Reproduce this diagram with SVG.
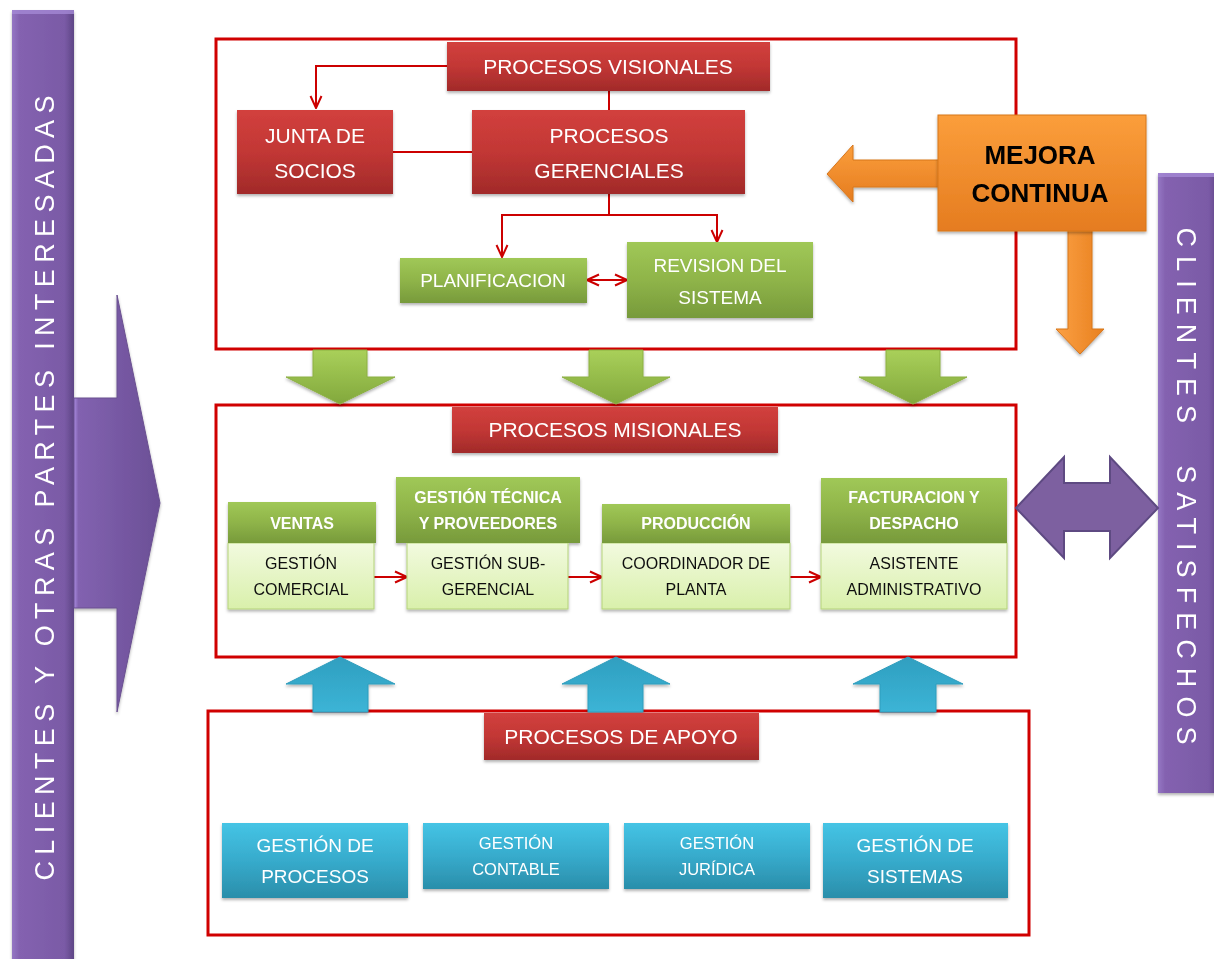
<svg xmlns="http://www.w3.org/2000/svg" width="1214" height="959" viewBox="0 0 1214 959">
  <style>
    .frame { fill: none; stroke: #d00000; stroke-width: 3; }
    .conn { fill: none; stroke: #cc0000; stroke-width: 2; }
    .t { font-family: "Liberation Sans", Arial, sans-serif; text-anchor: middle; }
    .title { fill: #ffffff; font-size: 21px; }
    .wt { fill: #ffffff; font-size: 19px; }
    .hdr { fill: #ffffff; font-size: 16px; font-weight: bold; }
    .body { fill: #111111; font-size: 16px; }
    .blue { fill: #ffffff; font-size: 19px; }
    .blues { fill: #ffffff; font-size: 16.5px; }
    .side { fill: #ffffff; font-size: 27px; white-space: pre; }
  </style>
  <defs>
    <linearGradient id="gRed" x1="0" y1="0" x2="0" y2="1">
      <stop offset="0" stop-color="#d2403d"/>
      <stop offset="0.5" stop-color="#c23735"/>
      <stop offset="1" stop-color="#a12a29"/>
    </linearGradient>
    <linearGradient id="gGreen" x1="0" y1="0" x2="0" y2="1">
      <stop offset="0" stop-color="#a0c857"/>
      <stop offset="0.5" stop-color="#8fb449"/>
      <stop offset="1" stop-color="#779a3b"/>
    </linearGradient>
    <linearGradient id="gLight" x1="0" y1="0" x2="0" y2="1">
      <stop offset="0" stop-color="#f2fadf"/>
      <stop offset="1" stop-color="#d9f0ab"/>
    </linearGradient>
    <linearGradient id="gBlue" x1="0" y1="0" x2="0" y2="1">
      <stop offset="0" stop-color="#45c4e5"/>
      <stop offset="0.5" stop-color="#37abcc"/>
      <stop offset="1" stop-color="#2a8eaa"/>
    </linearGradient>
    <linearGradient id="gOrange" x1="0" y1="0" x2="0" y2="1">
      <stop offset="0" stop-color="#fb9e3b"/>
      <stop offset="1" stop-color="#e57c20"/>
    </linearGradient>
    <linearGradient id="gOrangeH" x1="0" y1="0" x2="1" y2="0">
      <stop offset="0" stop-color="#fba043"/>
      <stop offset="1" stop-color="#e8801f"/>
    </linearGradient>
    <linearGradient id="gPurple" x1="0" y1="0" x2="1" y2="0">
      <stop offset="0" stop-color="#9576c4"/>
      <stop offset="0.12" stop-color="#8462b0"/>
      <stop offset="0.85" stop-color="#7a5aa6"/>
      <stop offset="1" stop-color="#5e4585"/>
    </linearGradient>
    <linearGradient id="gPurpleArrow" x1="0" y1="0" x2="1" y2="0">
      <stop offset="0" stop-color="#a98be0"/>
      <stop offset="0.05" stop-color="#8262b0"/>
      <stop offset="1" stop-color="#6b4f96"/>
    </linearGradient>
    <linearGradient id="gGreenArrow" x1="0" y1="0" x2="0" y2="1">
      <stop offset="0" stop-color="#a9d05a"/>
      <stop offset="1" stop-color="#82a83c"/>
    </linearGradient>
    <linearGradient id="gBlueArrow" x1="0" y1="0" x2="0" y2="1">
      <stop offset="0" stop-color="#2f9fc0"/>
      <stop offset="1" stop-color="#3cb4d6"/>
    </linearGradient>
    <filter id="shadow" x="-10%" y="-10%" width="120%" height="130%">
      <feDropShadow dx="0" dy="2" stdDeviation="1.5" flood-color="#000" flood-opacity="0.3"/>
    </filter>
    <marker id="open" viewBox="0 0 14 14" refX="13" refY="7" markerWidth="14" markerHeight="14" markerUnits="userSpaceOnUse" orient="auto-start-reverse">
      <path d="M1,1.5 L13,7 L1,12.5" fill="none" stroke="#cc0000" stroke-width="2"/>
    </marker>
  </defs>

  <rect width="1214" height="959" fill="#ffffff"/>

  <!-- side bands -->
  <g id="clientes-entrada" filter="url(#shadow)">
    <rect x="12" y="10" width="62" height="960" fill="url(#gPurple)"/>
    <rect x="12" y="10" width="62" height="4" fill="#a488d4" opacity="0.8"/>
    <polygon points="74,398 117,398 117,295 160,503 117,712 117,608 74,608" fill="url(#gPurpleArrow)" stroke="#6a5090" stroke-width="1"/>
    <text class="t side" transform="translate(54,488) rotate(-90)" textLength="785" lengthAdjust="spacing">CLIENTES Y OTRAS PARTES INTERESADAS</text>
  </g>
  <g id="clientes-satisfechos" filter="url(#shadow)">
    <rect x="1158" y="173" width="60" height="620" fill="url(#gPurple)"/>
    <rect x="1158" y="173" width="60" height="4" fill="#a488d4" opacity="0.8"/>
    <text class="t side" transform="translate(1177,486) rotate(90)" textLength="517" lengthAdjust="spacing">CLIENTES  SATISFECHOS</text>
  </g>

  <!-- section frames -->
  <g id="frames">
    <rect class="frame" x="216" y="39" width="800" height="310"/>
    <rect class="frame" x="216" y="405" width="800" height="252"/>
    <rect class="frame" x="208" y="711" width="821" height="224"/>
  </g>

  <!-- connectors -->
  <g id="connectors">
    <path class="conn" d="M447,66 H316 V108" marker-end="url(#open)"/>
    <path class="conn" d="M393,152 H472"/>
    <path class="conn" d="M609,91 V110"/>
    <path class="conn" d="M609,194 V215"/>
    <path class="conn" d="M609,215 H502 V257" marker-end="url(#open)"/>
    <path class="conn" d="M609,215 H717 V242" marker-end="url(#open)"/>
    <path class="conn" d="M587,280 H627" marker-start="url(#open)" marker-end="url(#open)"/>
    <path class="conn" d="M374,577 H407" marker-end="url(#open)"/>
    <path class="conn" d="M568,577 H602" marker-end="url(#open)"/>
    <path class="conn" d="M790,577 H821" marker-end="url(#open)"/>

    <!-- block arrows -->
    <g id="green-arrows" filter="url(#shadow)" fill="url(#gGreenArrow)" stroke="#8cb043" stroke-width="1">
      <polygon points="313,350 367,350 367,377 395,377 340,404 286,377 313,377"/>
      <polygon points="589,350 643,350 643,377 670,377 616,404 562,377 589,377"/>
      <polygon points="886,350 940,350 940,377 967,377 913,404 859,377 886,377"/>
    </g>
    <g id="blue-arrows" filter="url(#shadow)" fill="url(#gBlueArrow)" stroke="#2f9dbd" stroke-width="1">
      <polygon points="340,657 395,684 368,684 368,712 313,712 313,684 286,684"/>
      <polygon points="616,657 670,684 643,684 643,712 588,712 588,684 562,684"/>
      <polygon points="908,657 963,684 936,684 936,712 880,712 880,684 853,684"/>
    </g>
    <g id="mejora-arrows" filter="url(#shadow)" stroke="#d7761c" stroke-width="1">
      <polygon points="945,160 853,160 853,145 827,174 853,202 853,187 945,187" fill="url(#gOrange)"/>
      <polygon points="1068,228 1092,228 1092,329 1104,329 1080,354 1056,329 1068,329" fill="url(#gOrangeH)"/>
    </g>
    <polygon id="intercambio" points="1016,508 1064,457 1064,483 1110,483 1110,457 1158,508 1110,558 1110,531 1064,531 1064,558" fill="#7d60a0" stroke="#5e4a82" stroke-width="2"/>
  </g>

  <!-- procesos visionales -->
  <g id="procesos-visionales" filter="url(#shadow)">
    <rect x="447" y="42" width="323" height="49" fill="url(#gRed)"/>
    <text class="t title" x="608" y="74">PROCESOS VISIONALES</text>
  </g>
  <g id="junta-socios" filter="url(#shadow)">
    <rect x="237" y="110" width="156" height="84" fill="url(#gRed)"/>
    <text class="t title" x="315" y="143">JUNTA DE</text>
    <text class="t title" x="315" y="178">SOCIOS</text>
  </g>
  <g id="procesos-gerenciales" filter="url(#shadow)">
    <rect x="472" y="110" width="273" height="84" fill="url(#gRed)"/>
    <text class="t title" x="609" y="143">PROCESOS</text>
    <text class="t title" x="609" y="178">GERENCIALES</text>
  </g>
  <g id="planificacion" filter="url(#shadow)">
    <rect x="400" y="258" width="187" height="45" fill="url(#gGreen)"/>
    <text class="t wt" x="493" y="287">PLANIFICACION</text>
  </g>
  <g id="revision-sistema" filter="url(#shadow)">
    <rect x="627" y="242" width="186" height="76" fill="url(#gGreen)"/>
    <text class="t wt" x="720" y="272">REVISION DEL</text>
    <text class="t wt" x="720" y="304">SISTEMA</text>
  </g>
  <g id="mejora-continua" filter="url(#shadow)">
    <rect x="938" y="115" width="208" height="116" fill="url(#gOrange)" stroke="#d7761c" stroke-width="1"/>
    <text class="t" x="1040" y="164" font-size="26" font-weight="bold" fill="#000000">MEJORA</text>
    <text class="t" x="1040" y="202" font-size="26" font-weight="bold" fill="#000000">CONTINUA</text>
  </g>

  <!-- procesos misionales -->
  <g id="procesos-misionales" filter="url(#shadow)">
    <rect x="452" y="407" width="326" height="46" fill="url(#gRed)"/>
    <text class="t title" x="615" y="437">PROCESOS MISIONALES</text>
  </g>
  <g id="ventas" filter="url(#shadow)">
    <rect x="228" y="543" width="146" height="66" fill="url(#gLight)" stroke="#b5d37a" stroke-width="1"/>
    <rect x="228" y="502" width="148" height="41" fill="url(#gGreen)"/>
    <text class="t hdr" x="302" y="529">VENTAS</text>
    <text class="t body" x="301" y="569">GESTIÓN</text>
    <text class="t body" x="301" y="595">COMERCIAL</text>
  </g>
  <g id="gestion-tecnica" filter="url(#shadow)">
    <rect x="407" y="543" width="161" height="66" fill="url(#gLight)" stroke="#b5d37a" stroke-width="1"/>
    <rect x="396" y="477" width="184" height="66" fill="url(#gGreen)"/>
    <text class="t hdr" x="488" y="503">GESTIÓN TÉCNICA</text>
    <text class="t hdr" x="488" y="529">Y PROVEEDORES</text>
    <text class="t body" x="488" y="569">GESTIÓN SUB-</text>
    <text class="t body" x="488" y="595">GERENCIAL</text>
  </g>
  <g id="produccion" filter="url(#shadow)">
    <rect x="602" y="543" width="188" height="66" fill="url(#gLight)" stroke="#b5d37a" stroke-width="1"/>
    <rect x="602" y="504" width="188" height="39" fill="url(#gGreen)"/>
    <text class="t hdr" x="696" y="529">PRODUCCIÓN</text>
    <text class="t body" x="696" y="569">COORDINADOR DE</text>
    <text class="t body" x="696" y="595">PLANTA</text>
  </g>
  <g id="facturacion" filter="url(#shadow)">
    <rect x="821" y="543" width="186" height="66" fill="url(#gLight)" stroke="#b5d37a" stroke-width="1"/>
    <rect x="821" y="478" width="186" height="65" fill="url(#gGreen)"/>
    <text class="t hdr" x="914" y="503">FACTURACION Y</text>
    <text class="t hdr" x="914" y="529">DESPACHO</text>
    <text class="t body" x="914" y="569">ASISTENTE</text>
    <text class="t body" x="914" y="595">ADMINISTRATIVO</text>
  </g>

  <!-- procesos de apoyo -->
  <g id="procesos-apoyo" filter="url(#shadow)">
    <rect x="484" y="713" width="275" height="47" fill="url(#gRed)"/>
    <text class="t title" x="621" y="744">PROCESOS DE APOYO</text>
  </g>
  <g id="gestion-procesos" filter="url(#shadow)">
    <rect x="222" y="823" width="186" height="75" fill="url(#gBlue)"/>
    <text class="t blue" x="315" y="852">GESTIÓN DE</text>
    <text class="t blue" x="315" y="883">PROCESOS</text>
  </g>
  <g id="gestion-contable" filter="url(#shadow)">
    <rect x="423" y="823" width="186" height="66" fill="url(#gBlue)"/>
    <text class="t blues" x="516" y="849">GESTIÓN</text>
    <text class="t blues" x="516" y="875">CONTABLE</text>
  </g>
  <g id="gestion-juridica" filter="url(#shadow)">
    <rect x="624" y="823" width="186" height="66" fill="url(#gBlue)"/>
    <text class="t blues" x="717" y="849">GESTIÓN</text>
    <text class="t blues" x="717" y="875">JURÍDICA</text>
  </g>
  <g id="gestion-sistemas" filter="url(#shadow)">
    <rect x="823" y="823" width="185" height="75" fill="url(#gBlue)"/>
    <text class="t blue" x="915" y="852">GESTIÓN DE</text>
    <text class="t blue" x="915" y="883">SISTEMAS</text>
  </g>
</svg>
